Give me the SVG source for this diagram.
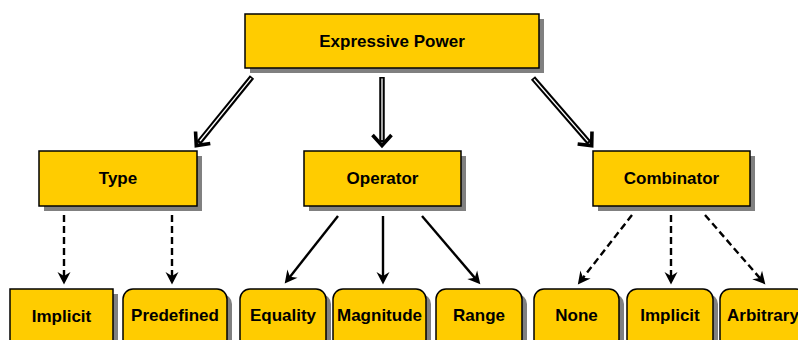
<svg xmlns="http://www.w3.org/2000/svg" width="798" height="340" viewBox="0 0 798 340">
<style>
.box{fill:#FFCC00;stroke:#000;stroke-width:1.5}
.sh{fill:#808080}
.t{font-family:"Liberation Sans",Arial,sans-serif;font-weight:bold;font-size:17px;fill:#000;text-anchor:middle}
.dbl{stroke:#000;stroke-width:5.5;fill:none}
.dblw{stroke:#fff;stroke-width:1.3;fill:none}
.sol{stroke:#000;stroke-width:2.4;fill:none}
.dash{stroke:#000;stroke-width:2.4;fill:none;stroke-dasharray:7,4}
</style>
<defs>
<marker id="chev" markerUnits="userSpaceOnUse" markerWidth="30" markerHeight="30" viewBox="-15 -15 30 30" refX="0" refY="0" orient="auto" overflow="visible">
<path d="M-7,-9.5 L3.5,0 L-7,9.5" fill="none" stroke="#000" stroke-width="3.6"/>
</marker>
<marker id="arr" markerUnits="userSpaceOnUse" markerWidth="30" markerHeight="30" viewBox="-15 -15 30 30" refX="0" refY="0" orient="auto" overflow="visible">
<path d="M4.5,0 L-8,-6.5 L-4,0 L-8,6.5 Z" fill="#000"/>
</marker>
</defs>
<g id="connectors">
<line class="dbl" x1="252" y1="77" x2="198.5" y2="142.9" marker-end="url(#chev)"/>
<line class="dblw" x1="251" y1="78.2" x2="200" y2="141"/>
<line class="dbl" x1="382" y1="77" x2="382" y2="142" marker-end="url(#chev)"/>
<line class="dblw" x1="382" y1="78.5" x2="382" y2="140"/>
<line class="dbl" x1="533" y1="78" x2="589.4" y2="143" marker-end="url(#chev)"/>
<line class="dblw" x1="534" y1="79.2" x2="588" y2="141.4"/>
<line class="dash" x1="64" y1="215" x2="64" y2="280" marker-end="url(#arr)"/>
<line class="dash" x1="172" y1="215" x2="172" y2="280" marker-end="url(#arr)"/>
<line class="sol" x1="338" y1="216" x2="287.5" y2="279.9" marker-end="url(#arr)"/>
<line class="sol" x1="383" y1="216" x2="383" y2="280" marker-end="url(#arr)"/>
<line class="sol" x1="422" y1="216" x2="477.4" y2="280.9" marker-end="url(#arr)"/>
<line class="dash" x1="632" y1="215" x2="580.6" y2="280.9" marker-end="url(#arr)"/>
<line class="dash" x1="671" y1="215" x2="671" y2="280" marker-end="url(#arr)"/>
<line class="dash" x1="705" y1="215" x2="762.4" y2="281" marker-end="url(#arr)"/>
</g>
<g id="expressive-power">
<rect class="sh" x="250" y="19" width="294" height="54"/>
<rect class="box" x="245" y="14" width="294" height="54"/>
<text class="t" x="392" y="47">Expressive Power</text>
</g>
<g id="type">
<rect class="sh" x="44" y="156" width="158" height="55"/>
<rect class="box" x="39" y="151" width="158" height="55"/>
<text class="t" x="118" y="184">Type</text>
</g>
<g id="operator">
<rect class="sh" x="309" y="156" width="157" height="55"/>
<rect class="box" x="304" y="151" width="157" height="55"/>
<text class="t" x="382.5" y="184">Operator</text>
</g>
<g id="combinator">
<rect class="sh" x="598" y="156" width="157" height="55"/>
<rect class="box" x="593" y="151" width="157" height="55"/>
<text class="t" x="671.5" y="184">Combinator</text>
</g>
<g id="implicit-type">
<rect class="sh" x="15" y="294" width="103" height="60"/>
<rect class="box" x="10" y="289" width="103" height="60"/>
<text class="t" x="61.5" y="322">Implicit</text>
</g>
<g id="predefined">
<rect class="sh" x="128" y="294" width="104" height="60" rx="10"/>
<rect class="box" x="123" y="289" width="104" height="60" rx="10"/>
<text class="t" x="175" y="321">Predefined</text>
</g>
<g id="equality">
<rect class="sh" x="245" y="294" width="86" height="60" rx="10"/>
<rect class="box" x="240" y="289" width="86" height="60" rx="10"/>
<text class="t" x="283" y="321">Equality</text>
</g>
<g id="magnitude">
<rect class="sh" x="338" y="294" width="93" height="60" rx="10"/>
<rect class="box" x="333" y="289" width="93" height="60" rx="10"/>
<text class="t" x="379.5" y="321">Magnitude</text>
</g>
<g id="range">
<rect class="sh" x="441" y="294" width="86" height="60" rx="10"/>
<rect class="box" x="436" y="289" width="86" height="60" rx="10"/>
<text class="t" x="479" y="321">Range</text>
</g>
<g id="none">
<rect class="sh" x="539" y="294" width="85" height="60" rx="10"/>
<rect class="box" x="534" y="289" width="85" height="60" rx="10"/>
<text class="t" x="576.5" y="321">None</text>
</g>
<g id="implicit-combinator">
<rect class="sh" x="632" y="294" width="86" height="60" rx="10"/>
<rect class="box" x="627" y="289" width="86" height="60" rx="10"/>
<text class="t" x="670" y="321">Implicit</text>
</g>
<g id="arbitrary">
<rect class="sh" x="725" y="294" width="86" height="60" rx="10"/>
<rect class="box" x="720" y="289" width="86" height="60" rx="10"/>
<text class="t" x="763" y="321">Arbitrary</text>
</g>
</svg>
